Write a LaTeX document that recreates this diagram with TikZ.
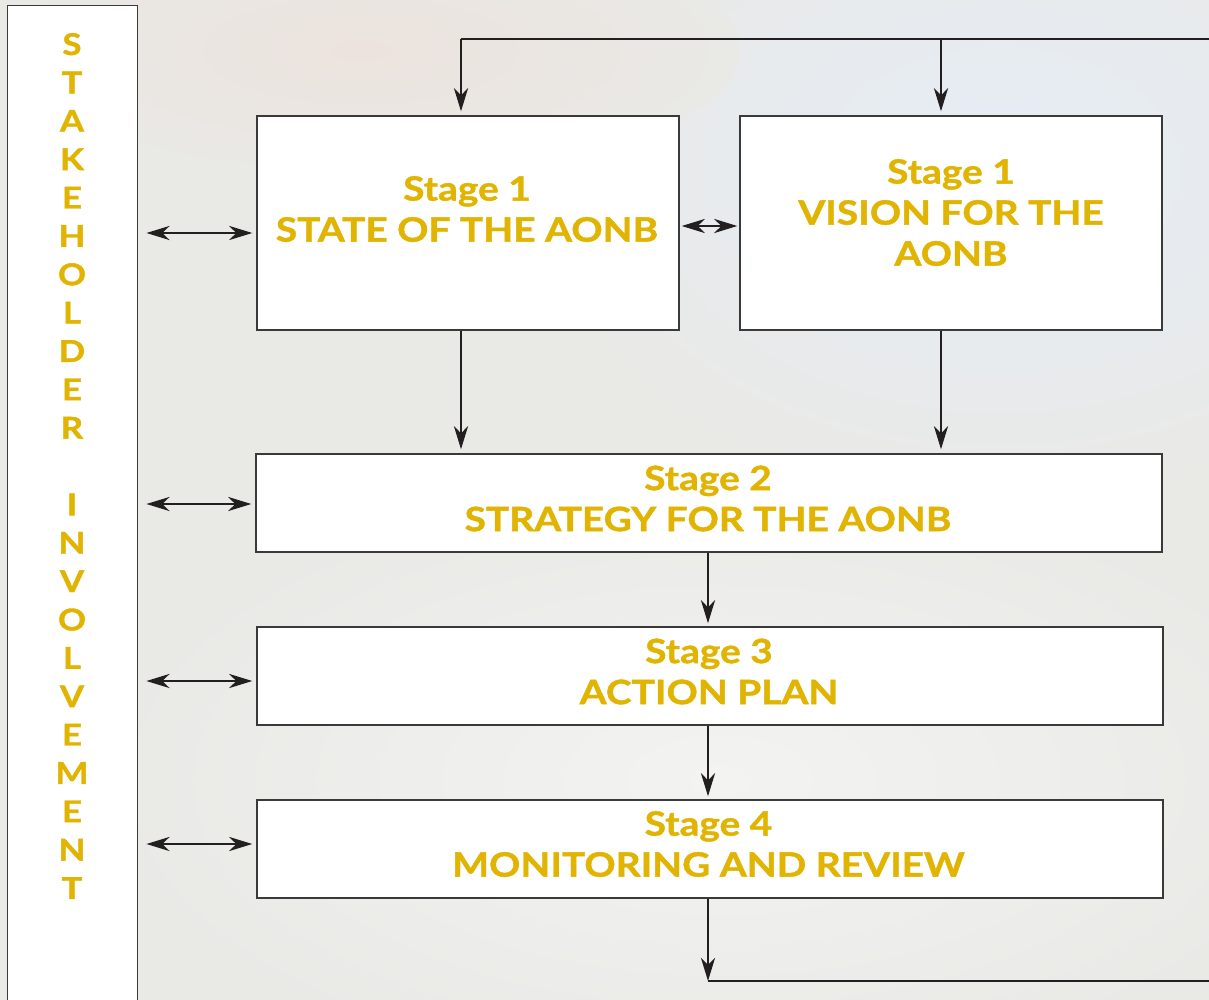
\documentclass[tikz,border=0pt]{standalone}
\usepackage{fontspec}
\setmainfont{Lato}[BoldFeatures={FakeStretch=1.16, FakeBold=1.2}]
\usetikzlibrary{arrows.meta}

\definecolor{gold}{HTML}{E0B400}
\definecolor{ink}{HTML}{231F20}
\definecolor{edge}{HTML}{3A3A3A}
\definecolor{bgbase}{HTML}{E9E9E6}
\definecolor{bgsky}{HTML}{E6EDF7}
\definecolor{bgsand}{HTML}{ECE3DE}
\definecolor{bglight}{HTML}{F3F3F2}

\tikzset{
  tip/.tip={Stealth[length=23pt,width=14pt,inset=7pt]},
  stagebox/.style={draw=edge, line width=1.4pt, fill=white, inner sep=0pt},
  stagetext/.style={text=gold, align=center, inner sep=0pt,
    font=\fontsize{33.5}{41}\selectfont\bfseries},
  letter/.style={text=gold, inner sep=0pt, anchor=base,
    font=\fontsize{30}{30}\selectfont\bfseries},
  wire/.style={draw=ink, line width=2.8pt},
  link/.style={wire, -tip},
  both/.style={wire, tip-tip},
}

\begin{document}
\begin{tikzpicture}[x=1pt,y=-1pt]
\clip (0,0) rectangle (1209,1000);
\useasboundingbox (0,0) rectangle (1209,1000);

% faded landscape backdrop
\fill[bgbase] (0,0) rectangle (1209,1000);
\shade[inner color=bgsky, outer color=bgbase] (1000,170) ellipse (480 and 330);
\shade[inner color=bgsand, outer color=bgbase] (360,50) ellipse (380 and 130);
\shade[inner color=bglight, outer color=bgbase] (720,780) ellipse (620 and 300);

% stakeholder column
\node[stagebox, minimum width=130pt, minimum height=1020pt, anchor=north west]
  (stake) at (7,5) {};
\foreach \l [count=\i from 0] in {S,T,A,K,E,H,O,L,D,E,R}
  \node[letter] (ka\i) at (72, 55+\i*38.36) {\l};
\foreach \l [count=\i from 12] in {I,N,V,O,L,V,E,M,E,N,T}
  \node[letter] (kb\i) at (72, 55+\i*38.36) {\l};

% stage boxes
\node[stagebox, minimum width=422pt, minimum height=214pt] (s1a) at (468,223) {};
\node[stagebox, minimum width=422pt, minimum height=214pt] (s1b) at (951,223) {};
\node[stagebox, minimum width=906pt, minimum height=98pt] (s2) at (709,503) {};
\node[stagebox, minimum width=906pt, minimum height=98pt] (s3) at (710,676) {};
\node[stagebox, minimum width=906pt, minimum height=98pt] (s4) at (710,849) {};

\node[stagetext] (t1a) at (467,209) {Stage 1\\STATE OF THE AONB};
\node[stagetext] (t1b) at (951,212.5) {Stage 1\\VISION FOR THE\\AONB};
\node[stagetext] (t2) at (708,498.5) {Stage 2\\STRATEGY FOR THE AONB};
\node[stagetext] (t3) at (709,671.5) {Stage 3\\ACTION PLAN};
\node[stagetext] (t4) at (708.5,844) {Stage 4\\MONITORING AND REVIEW};

% feedback loop
\coordinate (topL) at (461,39);
\coordinate (topM) at (941,39);
\coordinate (topR) at (1215,39);
\coordinate (botC) at (708,981);
\coordinate (botR) at (1215,981);

\draw[wire] (topR) -- (topL);
\draw[link, shorten >=4pt] (topL) -- (topL |- s1a.north);
\draw[link, shorten >=4pt] (topM) -- (topM |- s1b.north);

\draw[link, shorten >=4pt] (topL |- s1a.south) -- (topL |- s2.north);
\draw[link, shorten >=4pt] (topM |- s1b.south) -- (topM |- s2.north);
\draw[link, shorten >=3pt] (botC |- s2.south) -- (botC |- s3.north);
\draw[link, shorten >=3pt] (botC |- s3.south) -- (botC |- s4.north);
\draw[link] (botC |- s4.south) -- (botC);
\draw[wire] (botC) -- (botR);

\draw[both, shorten <=2pt, shorten >=2pt] (s1a.east |- 0,226) -- (s1b.west |- 0,226);

% stakeholder links
\foreach \b/\y in {s1a/233, s2/504, s3/681, s4/844}
  \draw[both, shorten <=8pt, shorten >=4pt] (stake.east |- 0,\y) -- (\b.west |- 0,\y);
\end{tikzpicture}
\end{document}
